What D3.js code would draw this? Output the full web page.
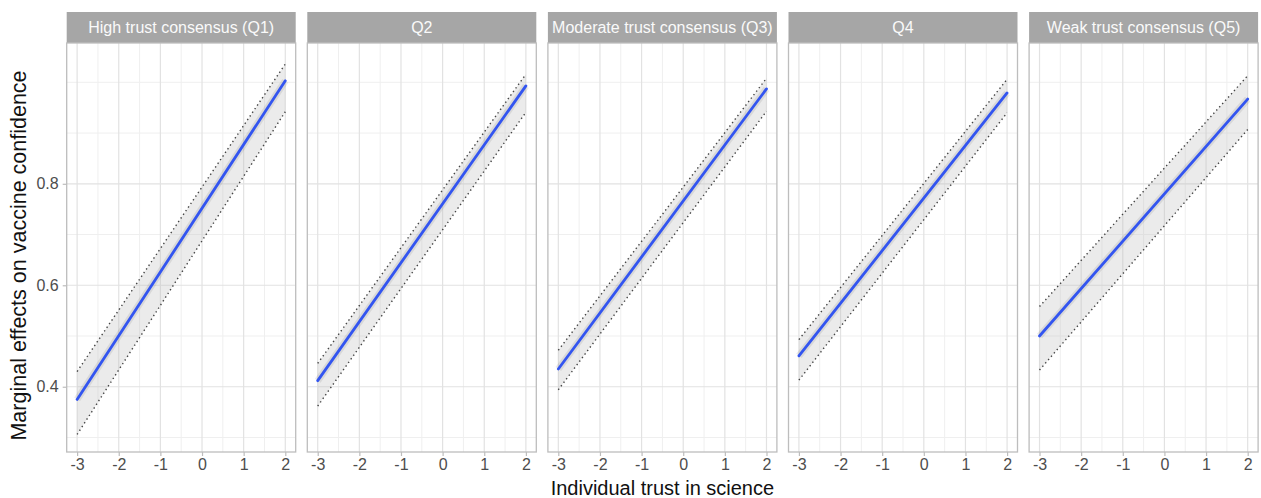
<!DOCTYPE html>
<html>
<head>
<meta charset="utf-8">
<script src="https://cdn.jsdelivr.net/npm/d3@7"></script>
<style>
  body { margin: 0; background: #fff; }
  svg { display: block; font-family: "Liberation Sans", Arial, sans-serif; }
</style>
</head>
<body>
<div id="chart"></div>
<script>
// facet labels
var panels = ["High trust consensus (Q1)", "Q2", "Moderate trust consensus (Q3)", "Q4", "Weak trust consensus (Q5)"];

// x positions where the estimates were read
var xValues = [-3, 2];

// predicted marginal effect, per quintile (at x = -3 and x = 2)
var fitQ1 = [0.375, 1.003];
var fitQ2 = [0.412, 0.993];
var fitQ3 = [0.435, 0.987];
var fitQ4 = [0.461, 0.979];
var fitQ5 = [0.500, 0.967];

// upper / lower confidence bounds
var upperQ1 = [0.430, 1.036], lowerQ1 = [0.306, 0.942];
var upperQ2 = [0.446, 1.016], lowerQ2 = [0.362, 0.941];
var upperQ3 = [0.472, 1.008], lowerQ3 = [0.394, 0.943];
var upperQ4 = [0.493, 1.006], lowerQ4 = [0.413, 0.940];
var upperQ5 = [0.558, 1.013], lowerQ5 = [0.433, 0.907];

var xTicks = [-3, -2, -1, 0, 1, 2];
var xMinor = [-2.5, -1.5, -0.5, 0.5, 1.5];
var yTicks = [0.4, 0.6, 0.8];
var yMinor = [0.3, 0.5, 0.7, 0.9, 1.0];

var fits = [fitQ1, fitQ2, fitQ3, fitQ4, fitQ5];
var uppers = [upperQ1, upperQ2, upperQ3, upperQ4, upperQ5];
var lowers = [lowerQ1, lowerQ2, lowerQ3, lowerQ4, lowerQ5];

var width = 1261, height = 498;
var padLeft = 66.7, padTop = 43, panelW = 229, gap = 11.6, panelH = 409, stripH = 31;

var svg = d3.select("#chart").append("svg")
    .attr("width", width)
    .attr("height", height);

var x = d3.scaleLinear().domain([-3.25, 2.25]).range([0, panelW]);
var y = d3.scaleLinear().domain([0.2714, 1.0775]).range([panelH, 0]);

var line = d3.line()
    .x(function (d) { return x(d[0]); })
    .y(function (d) { return y(d[1]); });

var area = d3.area()
    .x(function (d) { return x(d[0]); })
    .y0(function (d) { return y(d[1]); })
    .y1(function (d) { return y(d[2]); });

panels.forEach(function (name, i) {
    var g = svg.append("g")
        .attr("transform", "translate(" + (padLeft + i * (panelW + gap)) + "," + padTop + ")");

    // strip
    g.append("rect")
        .attr("x", 0).attr("y", -stripH)
        .attr("width", panelW).attr("height", stripH)
        .attr("fill", "#a6a6a6");
    g.append("text")
        .attr("x", panelW / 2).attr("y", -stripH / 2)
        .attr("dy", "0.36em")
        .attr("text-anchor", "middle")
        .attr("fill", "#fafafa")
        .style("font-size", "16px")
        .text(name);

    // grid
    g.selectAll(".ym").data(yMinor).enter().append("line")
        .attr("x1", 0).attr("x2", panelW)
        .attr("y1", y).attr("y2", y)
        .attr("stroke", "#efefef").attr("stroke-width", 1);
    g.selectAll(".xm").data(xMinor).enter().append("line")
        .attr("y1", 0).attr("y2", panelH)
        .attr("x1", x).attr("x2", x)
        .attr("stroke", "#efefef").attr("stroke-width", 1);
    g.selectAll(".yM").data(yTicks).enter().append("line")
        .attr("x1", 0).attr("x2", panelW)
        .attr("y1", y).attr("y2", y)
        .attr("stroke", "#e2e2e2").attr("stroke-width", 1.2);
    g.selectAll(".xM").data(xTicks).enter().append("line")
        .attr("y1", 0).attr("y2", panelH)
        .attr("x1", x).attr("x2", x)
        .attr("stroke", "#e2e2e2").attr("stroke-width", 1.2);

    var band = xValues.map(function (xv, k) {
        return [xv, lowers[i][k], uppers[i][k]];
    });
    var fitPts = xValues.map(function (xv, k) { return [xv, fits[i][k]]; });
    var upPts = xValues.map(function (xv, k) { return [xv, uppers[i][k]]; });
    var loPts = xValues.map(function (xv, k) { return [xv, lowers[i][k]]; });

    // ribbon
    g.append("path").datum(band)
        .attr("d", area)
        .attr("fill", "#bdbdbd").attr("fill-opacity", 0.3);

    // dotted bounds
    [upPts, loPts].forEach(function (pts) {
        g.append("path").datum(pts)
            .attr("d", line)
            .attr("fill", "none")
            .attr("stroke", "#444")
            .attr("stroke-width", 1.4)
            .attr("stroke-dasharray", "1.4,3");
    });

    // halo + fitted line
    g.append("path").datum(fitPts)
        .attr("d", line)
        .attr("fill", "none")
        .attr("stroke", "#000").attr("stroke-opacity", 0.08)
        .attr("stroke-width", 7);
    g.append("path").datum(fitPts)
        .attr("d", line)
        .attr("fill", "none")
        .attr("stroke", "#3355f0")
        .attr("stroke-width", 2.8)
        .attr("stroke-linecap", "round");

    // border
    g.append("rect")
        .attr("x", 0).attr("y", 0)
        .attr("width", panelW).attr("height", panelH)
        .attr("fill", "none")
        .attr("stroke", "#bdbdbd").attr("stroke-width", 1.3);

    // x axis
    var xa = g.append("g")
        .attr("transform", "translate(0," + panelH + ")")
        .call(d3.axisBottom(x).tickValues(xTicks).tickSize(4).tickPadding(3)
            .tickFormat(function (d) { return d; }));
    xa.select(".domain").remove();
    xa.selectAll("line").attr("stroke", "#bdbdbd").attr("stroke-width", 1.2);
    xa.selectAll("text").attr("fill", "#4d4d4d").style("font-size", "16px")
        .style("font-family", "Liberation Sans, Arial, sans-serif");

    if (i === 0) {
        var ya = g.append("g")
            .call(d3.axisLeft(y).tickValues(yTicks).tickSize(4).tickPadding(4)
                .tickFormat(d3.format(".1f")));
        ya.select(".domain").remove();
        ya.selectAll("line").attr("stroke", "#bdbdbd").attr("stroke-width", 1.2);
        ya.selectAll("text").attr("fill", "#4d4d4d").style("font-size", "16px")
            .style("font-family", "Liberation Sans, Arial, sans-serif");
    }
});

// axis titles
svg.append("text")
    .attr("x", (padLeft + padLeft + 5 * panelW + 4 * gap) / 2)
    .attr("y", 488)
    .attr("dy", "0.35em")
    .attr("text-anchor", "middle")
    .style("font-size", "20px")
    .attr("fill", "#111")
    .text("Individual trust in science");

svg.append("text")
    .attr("transform", "translate(18," + (padTop + panelH / 2 + 8) + ") rotate(-90)")
    .attr("dy", "0.35em")
    .attr("text-anchor", "middle")
    .style("font-size", "21.5px")
    .attr("fill", "#111")
    .text("Marginal effects on vaccine confidence");
</script>
</body>
</html>
